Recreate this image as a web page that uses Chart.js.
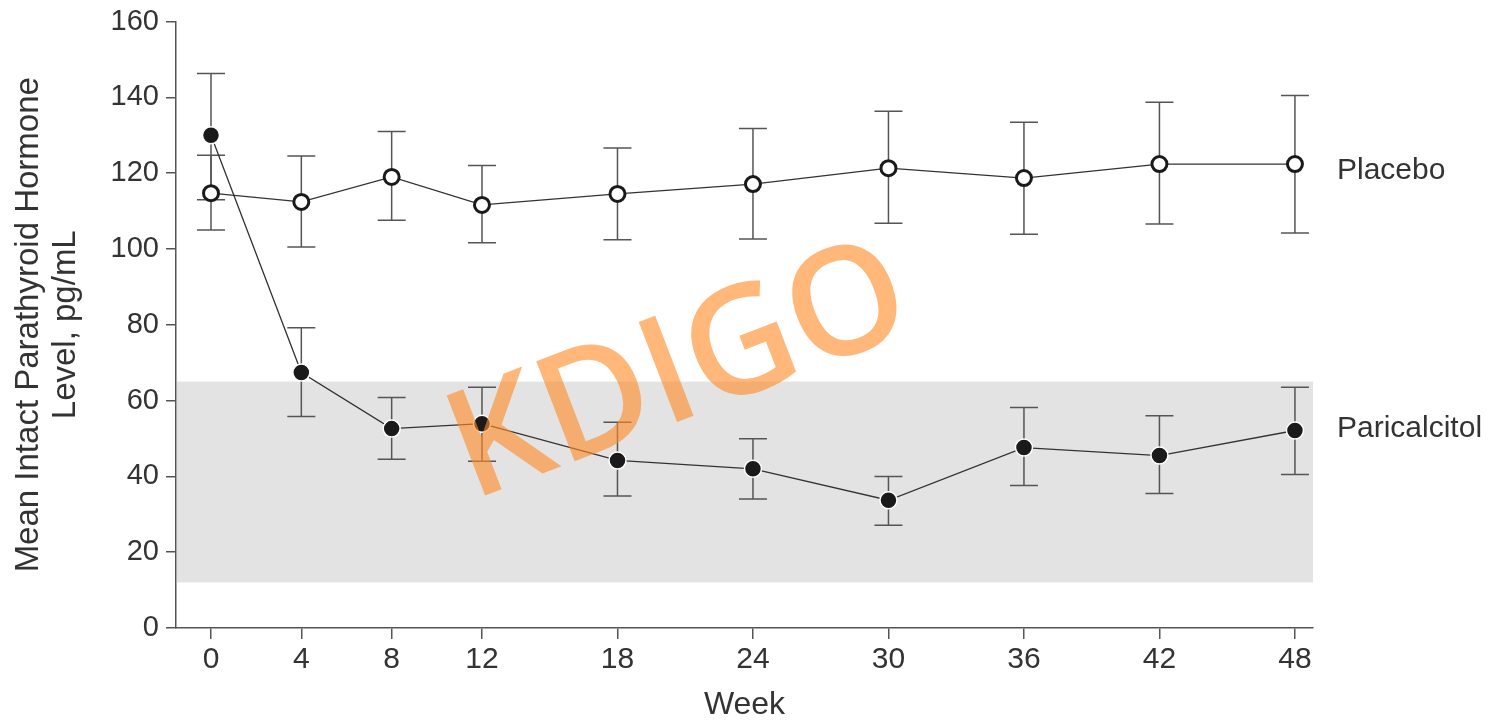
<!DOCTYPE html>
<html>
<head>
<meta charset="utf-8">
<script src="https://cdn.jsdelivr.net/npm/chart.js@4/dist/chart.umd.min.js"></script>
<style>
  html, body { margin: 0; padding: 0; background: #fff; }
  #wrap { width: 1496px; height: 724px; }
</style>
</head>
<body>
<div id="wrap"><canvas id="chart"></canvas></div>
<script>
// Data
const weeks = [0, 4, 8, 12, 18, 24, 30, 36, 42, 48];
const placeboMean = [114.7, 112.4, 119.0, 111.6, 114.5, 117.1, 121.3, 118.7, 122.4, 122.4];
const placeboLow  = [105.0, 100.5, 107.6, 101.6, 102.4, 102.6, 106.8, 103.9, 106.6, 104.2];
const placeboHigh = [124.7, 124.5, 131.0, 122.0, 126.6, 131.8, 136.3, 133.4, 138.7, 140.5];
const paricMean = [130.0, 67.4, 52.6, 53.9, 44.2, 42.0, 33.7, 47.6, 45.5, 52.1];
const paricLow  = [113.0, 55.8, 44.5, 44.0, 34.8, 34.0, 27.1, 37.6, 35.5, 40.5];
const paricHigh = [146.3, 79.2, 60.8, 63.5, 54.3, 49.9, 40.0, 58.2, 56.0, 63.5];
const targetBand = [12, 65];
const yTicks = [0, 20, 40, 60, 80, 100, 120, 140, 160];
const seriesNames = ['Placebo', 'Paricalcitol'];
const seriesLabelY = [120.6, 52.6];

const FONT = "'Liberation Sans', 'Helvetica Neue', Arial, sans-serif";
const TEXT = '#333';
const AXIS = '#555';

const toPoints = (ys) => weeks.map((w, i) => ({ x: w, y: ys[i] }));

// grey target band + error bars under the lines
const underlay = {
    id: 'underlay',
    beforeDatasetsDraw(chart) {
        const { ctx, chartArea, scales: { x, y } } = chart;
        ctx.save();
        ctx.fillStyle = '#e3e3e3';
        const top = y.getPixelForValue(targetBand[1]);
        const bot = y.getPixelForValue(targetBand[0]);
        ctx.fillRect(chartArea.left + 1, top, chartArea.right - chartArea.left - 1, bot - top);

        ctx.strokeStyle = AXIS;
        ctx.lineWidth = 1.5;
        const cap = 14;
        [[placeboLow, placeboHigh], [paricLow, paricHigh]].forEach(([lo, hi]) => {
            weeks.forEach((w, i) => {
                const px = x.getPixelForValue(w);
                const y1 = y.getPixelForValue(lo[i]);
                const y2 = y.getPixelForValue(hi[i]);
                ctx.beginPath();
                ctx.moveTo(px, y1); ctx.lineTo(px, y2);
                ctx.moveTo(px - cap, y1); ctx.lineTo(px + cap, y1);
                ctx.moveTo(px - cap, y2); ctx.lineTo(px + cap, y2);
                ctx.stroke();
            });
        });
        ctx.restore();
    }
};

// series names on the right + watermark
const overlay = {
    id: 'overlay',
    afterDatasetsDraw(chart) {
        const { ctx, chartArea, scales: { y } } = chart;
        ctx.save();
        ctx.font = '30px ' + FONT;
        ctx.fillStyle = TEXT;
        ctx.textAlign = 'left';
        ctx.textBaseline = 'middle';
        seriesNames.forEach((name, i) => {
            ctx.fillText(name, chartArea.right + 24, y.getPixelForValue(seriesLabelY[i]));
        });

        ctx.translate(680, 375);
        ctx.rotate(-21 * Math.PI / 180);
        ctx.font = "600 150px 'Open Sans', 'DejaVu Sans', sans-serif";
        ctx.fillStyle = 'rgba(255, 140, 40, 0.62)';
        ctx.textAlign = 'center';
        ctx.textBaseline = 'middle';
        ctx.fillText('KDIGO', 0, 0);
        ctx.restore();
    }
};

new Chart(document.getElementById('chart'), {
    type: 'line',
    data: {
        datasets: [
            {
                label: 'Placebo',
                data: toPoints(placeboMean),
                borderColor: '#333',
                borderWidth: 1.3,
                pointRadius: 7.5,
                pointBackgroundColor: '#fff',
                pointBorderColor: '#1a1a1a',
                pointBorderWidth: 3
            },
            {
                label: 'Paricalcitol',
                data: toPoints(paricMean),
                borderColor: '#333',
                borderWidth: 1.3,
                pointRadius: 8.5,
                pointBackgroundColor: '#1a1a1a',
                pointBorderColor: '#fff',
                pointBorderWidth: 1.5
            }
        ]
    },
    options: {
        responsive: true,
        maintainAspectRatio: false,
        animation: false,
        layout: { padding: { left: 0, right: 183, top: 20, bottom: 0 } },
        plugins: { legend: { display: false }, tooltip: { enabled: false } },
        scales: {
            x: {
                type: 'linear',
                min: -1.55,
                max: 48.8,
                afterBuildTicks: s => { s.ticks = weeks.map(v => ({ value: v })); },
                afterFit: s => { s.height = 96; },
                grid: { drawOnChartArea: false, drawTicks: true, tickLength: 11, color: AXIS, lineWidth: 1.5 },
                border: { display: true, color: AXIS, width: 1.5 },
                ticks: { autoSkip: false, maxRotation: 0, padding: 3, color: TEXT, font: { family: FONT, size: 30 } },
                title: { display: true, text: 'Week', color: TEXT, font: { family: FONT, size: 32 }, padding: { top: 0, bottom: 0 } }
            },
            y: {
                min: 0,
                max: 160,
                afterBuildTicks: s => { s.ticks = yTicks.map(v => ({ value: v })); },
                afterFit: s => { s.width = 176; },
                grid: { drawOnChartArea: false, drawTicks: true, tickLength: 10, color: AXIS, lineWidth: 1.5 },
                border: { display: true, color: AXIS, width: 1.5 },
                ticks: { padding: 7, color: TEXT, font: { family: FONT, size: 29, lineHeight: 1 } },
                title: {
                    display: true,
                    text: ['Mean Intact Parathyroid Hormone', 'Level, pg/mL'],
                    color: TEXT,
                    font: { family: FONT, size: 33, lineHeight: 1.12 },
                    padding: { top: 10, bottom: 0 }
                }
            }
        }
    },
    plugins: [underlay, overlay]
});
</script>
</body>
</html>
